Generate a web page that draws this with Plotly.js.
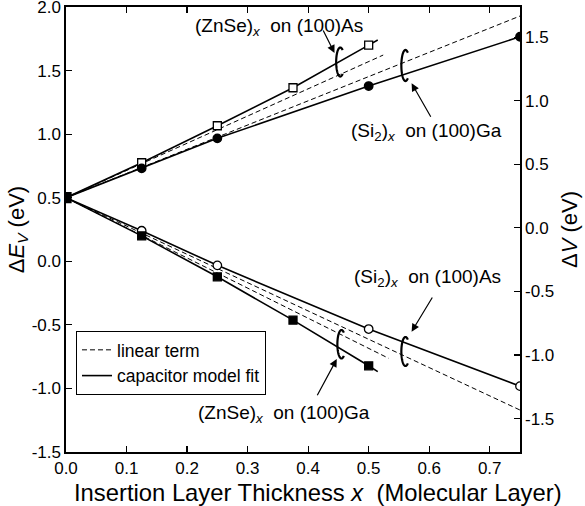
<!DOCTYPE html>
<html>
<head>
<meta charset="utf-8">
<script src="https://cdn.plot.ly/plotly-3.0.1.min.js"></script>
<style>html,body{margin:0;padding:0;background:#fff;}#chart{width:585px;height:506px;}</style>
</head>
<body>
<div id="chart"></div>
<script>
// ---------- data ----------
const originX = [0];
const originY = [0.5];

// measured points
const znseAsX = [0.125, 0.25, 0.375, 0.5];
const znseAsY = [0.775, 1.066, 1.365, 1.70];
const si2GaX  = [0.125, 0.25, 0.5, 0.75];
const si2GaY  = [0.731, 0.967, 1.378, 1.766];
const si2AsX  = [0.125, 0.25, 0.5, 0.75];
const si2AsY  = [0.24, -0.032, -0.533, -0.982];
const znseGaX = [0.125, 0.25, 0.375, 0.5];
const znseGaY = [0.20, -0.122, -0.463, -0.822];

// capacitor model fit curves
const fitZnseAsX = [0, 0.125, 0.25, 0.375, 0.5, 0.515];
const fitZnseAsY = [0.5, 0.775, 1.066, 1.365, 1.70, 1.74];
const fitSi2GaX  = [0, 0.125, 0.25, 0.5, 0.75];
const fitSi2GaY  = [0.5, 0.731, 0.967, 1.378, 1.766];
const fitSi2AsX  = [0, 0.125, 0.25, 0.5, 0.75];
const fitSi2AsY  = [0.5, 0.24, -0.032, -0.533, -0.982];
const fitZnseGaX = [0, 0.125, 0.25, 0.375, 0.5, 0.515];
const fitZnseGaY = [0.5, 0.20, -0.122, -0.463, -0.822, -0.868];

// linear terms
const linZnseAsX = [0, 0.524];
const linZnseAsY = [0.5, 1.622];
const linSi2GaX  = [0, 0.75];
const linSi2GaY  = [0.5, 1.929];
const linSi2AsX  = [0, 0.75];
const linSi2AsY  = [0.5, -1.17];
const linZnseGaX = [0, 0.533];
const linZnseGaY = [0.5, -0.763];

// ticks
const xTickVals = [0, 0.1, 0.2, 0.3, 0.4, 0.5, 0.6, 0.7];
const xTickText = ['0.0', '0.1', '0.2', '0.3', '0.4', '0.5', '0.6', '0.7'];
const yTickVals = [-1.5, -1.0, -0.5, 0, 0.5, 1.0, 1.5, 2.0];
const yTickText = ['-1.5', '-1.0', '-0.5', '0.0', '0.5', '1.0', '1.5', '2.0'];
const y2TickVals = [-1.5, -1.0, -0.5, 0, 0.5, 1.0, 1.5];
const y2TickText = ['-1.5', '-1.0', '-0.5', '0.0', '0.5', '1.0', '1.5'];

// ---------- styles ----------
const FONT = 'Liberation Sans, Arial, Helvetica, sans-serif';
const NB = '\u00a0';
const dashStyle = {color: 'black', width: 1, dash: '5px,3px'};
const solidStyle = {color: 'black', width: 1.6};

function lineTrace(x, y, style, name, show) {
  return {x: x, y: y, type: 'scatter', mode: 'lines', line: style,
          name: name, showlegend: show, hoverinfo: 'skip'};
}
function markTrace(x, y, symbol, fill, size) {
  return {x: x, y: y, type: 'scatter', mode: 'markers', showlegend: false,
          marker: {symbol: symbol, size: size, color: fill,
                   line: {color: 'black', width: 1.3}}};
}

const traces = [
  lineTrace(linZnseAsX, linZnseAsY, dashStyle, 'linear term', true),
  lineTrace(linSi2GaX, linSi2GaY, dashStyle, 'linear term', false),
  lineTrace(linSi2AsX, linSi2AsY, dashStyle, 'linear term', false),
  lineTrace(linZnseGaX, linZnseGaY, dashStyle, 'linear term', false),
  lineTrace(fitZnseAsX, fitZnseAsY, solidStyle, 'capacitor model fit', true),
  lineTrace(fitSi2GaX, fitSi2GaY, solidStyle, 'capacitor model fit', false),
  lineTrace(fitSi2AsX, fitSi2AsY, solidStyle, 'capacitor model fit', false),
  lineTrace(fitZnseGaX, fitZnseGaY, solidStyle, 'capacitor model fit', false),
  markTrace(znseAsX, znseAsY, 'square', 'white', 8),
  markTrace(si2GaX, si2GaY, 'circle', 'black', 8.5),
  markTrace(si2AsX, si2AsY, 'circle', 'white', 8.5),
  markTrace(znseGaX, znseGaY, 'square', 'black', 8),
  markTrace(originX, originY, 'square', 'black', 10),
  {x: [null], y: [null], yaxis: 'y2', type: 'scatter', mode: 'lines', showlegend: false, hoverinfo: 'skip'}
];

const txtFont = {family: FONT, size: 19, color: 'black'};
function label(x, y, text) {
  return {x: x, y: y, xref: 'x', yref: 'y', text: text, showarrow: false,
          font: txtFont, xanchor: 'center', yanchor: 'middle'};
}
function arrow(x0, y0, x1, y1) {
  return {x: x1, y: y1, ax: x0, ay: y0, xref: 'x', yref: 'y', axref: 'x', ayref: 'y',
          text: '', showarrow: true, arrowhead: 2, arrowsize: 1.3, arrowwidth: 1.2,
          arrowcolor: 'black', standoff: 0, startstandoff: 0};
}
// open "C"-shaped ring drawn around a pair of lines (shape, not data)
function ring(cx, cy, rx, ry) {
  let d = '';
  for (let a = 55; a <= 305; a += 5) {
    const t = a * Math.PI / 180;
    const px = cx + rx * Math.cos(t), py = cy + ry * Math.sin(t);
    d += (a === 55 ? 'M' : 'L') + px.toFixed(5) + ',' + py.toFixed(5);
  }
  return {type: 'path', xref: 'x', yref: 'y', path: d,
          line: {color: 'black', width: 2.2}};
}
const tickFont = {family: FONT, size: 17, color: 'black'};

const layout = {
  width: 585, height: 506,
  margin: {l: 66, r: 65, t: 7, b: 54, pad: 0},
  paper_bgcolor: 'white', plot_bgcolor: 'white',
  font: {family: FONT, color: 'black', size: 17},
  showlegend: true,
  legend: {x: 0.022, y: 0.272, xanchor: 'left', yanchor: 'top',
           bordercolor: 'black', borderwidth: 1, bgcolor: 'white',
           tracegroupgap: 0,
           font: {family: FONT, size: 17.5, color: 'black'}},
  xaxis: {range: [0, 0.75], tickvals: xTickVals, ticktext: xTickText,
          ticks: 'inside', ticklen: 6, tickwidth: 1.2, tickcolor: 'black',
          showline: true, linecolor: 'black', linewidth: 1.6, mirror: 'ticks',
          showgrid: false, zeroline: false, ticklabeloverflow: 'allow',
          tickfont: tickFont},
  yaxis: {range: [-1.5, 2.0], tickvals: yTickVals, ticktext: yTickText,
          ticks: 'inside', ticklen: 6, tickwidth: 1.2, tickcolor: 'black',
          showline: true, linecolor: 'black', linewidth: 1.6,
          showgrid: false, zeroline: false, ticklabeloverflow: 'allow',
          tickfont: tickFont,
          title: {text: 'Δ<i>E</i><sub><i>V</i></sub> (eV)',
                  font: {family: FONT, size: 22, color: 'black'}, standoff: 1}},
  yaxis2: {range: [-1.763, 1.737], tickvals: y2TickVals, ticktext: y2TickText,
           overlaying: 'y', side: 'right',
           ticks: 'inside', ticklen: 6, tickwidth: 1.2, tickcolor: 'black',
           showline: true, linecolor: 'black', linewidth: 1.6,
           showgrid: false, zeroline: false, ticklabeloverflow: 'allow',
           tickfont: tickFont,
           title: {text: 'Δ<i>V</i> (eV)',
                   font: {family: FONT, size: 22, color: 'black'}, standoff: 8}},
  annotations: [
    {x: 0.556, y: -0.058, xref: 'paper', yref: 'paper', showarrow: false,
     xanchor: 'center', yanchor: 'top', borderpad: 0,
     text: 'Insertion Layer Thickness <i>x</i>' + NB + NB + '(Molecular Layer)',
     font: {family: FONT, size: 23.8, color: 'black'}},
    label(0.352, 1.843, '(ZnSe)<sub><i>x</i></sub>' + NB + NB + 'on (100)As'),
    label(0.596, 1.019, '(Si<sub>2</sub>)<sub><i>x</i></sub>' + NB + NB + 'on (100)Ga'),
    label(0.598, -0.134, '(Si<sub>2</sub>)<sub><i>x</i></sub>' + NB + NB + 'on (100)As'),
    label(0.360, -1.201, '(ZnSe)<sub><i>x</i></sub>' + NB + NB + 'on (100)Ga'),
    arrow(0.4237, 1.827, 0.4436, 1.638),
    arrow(0.604, 1.1246, 0.5709, 1.3999),
    arrow(0.6066, -0.273, 0.5709, -0.554),
    arrow(0.4138, -1.065, 0.4473, -0.769)
  ],
  shapes: [
    ring(0.4531, 1.5672, 0.0068, 0.114),
    ring(0.5608, 1.5399, 0.0068, 0.122),
    ring(0.5608, -0.7096, 0.0068, 0.114),
    ring(0.4551, -0.6526, 0.0068, 0.112)
  ]
};

Plotly.newPlot('chart', traces, layout, {staticPlot: true, displayModeBar: false});
</script>
</body>
</html>
